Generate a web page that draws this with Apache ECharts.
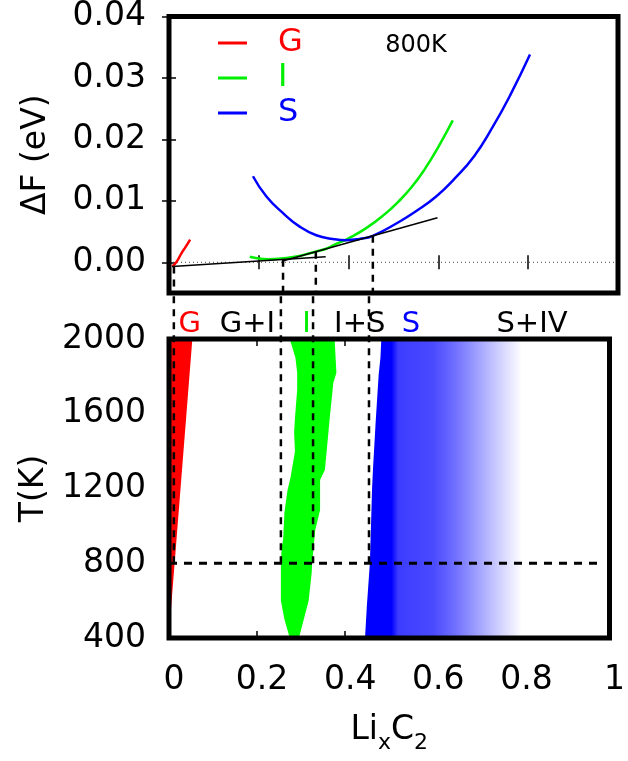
<!DOCTYPE html>
<html>
<head>
<meta charset="utf-8">
<script src="https://cdn.jsdelivr.net/npm/echarts@6/dist/echarts.min.js"></script>
<style>
html,body{margin:0;padding:0;background:#fff;}
#main{width:628px;height:761px;}
</style>
</head>
<body>
<div id="main"></div>
<script>
// ---------------- data ----------------
const fTickValues = [0, 0.01, 0.02, 0.03, 0.04];
const fRange = [-0.005, 0.04];
const xRange = [0, 1];
const tRange = [400, 2000];
const tInterval = 400;

const curveG = [[0.007,-0.0007],[0.017,0.0001],[0.028,0.0015],[0.037,0.0025],[0.047,0.0037]];
const curveI = [[0.18,0.0009],[0.20,0.0006],[0.22,0.0005],[0.25,0.0006],[0.28,0.0009],[0.30,0.0012],
  [0.33,0.0018],[0.35,0.0022],[0.37,0.0029],[0.40,0.0039],[0.44,0.0056],[0.48,0.0078],[0.51,0.0098],
  [0.54,0.0122],[0.57,0.0152],[0.60,0.0188],[0.632,0.0231]];
const curveS = [[0.187,0.0140],[0.217,0.0107],[0.254,0.0080],[0.291,0.0058],[0.328,0.0044],[0.365,0.0038],
  [0.395,0.0036],[0.424,0.0038],[0.454,0.0043],[0.513,0.0066],[0.55,0.0083],[0.595,0.0107],[0.636,0.0136],
  [0.68,0.0173],[0.72,0.0219],[0.76,0.0272],[0.804,0.0338]];
const tangentGI = [[0.007,-0.0007],[0.349,0.0009]];
const tangentIS = [[0.253,0.0002],[0.598,0.00725]];
const zeroLine = [[0,0],[1,0]];

const boundaryX = [0.011, 0.254, 0.327, 0.454];
const boundaryF = [-0.0007, 0.0004, 0.0017, 0.0043];
const refT = 800;
const refLine = [[0,800],[0.976,800]];

const regionG = [[0,420],[0.053,2000],[0,2000]];
const regionI = [[0.274,400],[0.262,500],[0.254,600],[0.254,800],[0.256,890],[0.259,925],[0.262,1070],
  [0.269,1190],[0.276,1260],[0.286,1400],[0.284,1500],[0.286,1580],[0.291,1730],[0.291,1820],[0.287,1900],
  [0.274,2000],[0.376,2000],[0.38,1820],[0.373,1765],[0.365,1580],[0.354,1300],[0.343,1246],[0.343,1085],
  [0.332,978],[0.325,800],[0.324,750],[0.317,600],[0.295,400]];
const regionS = [[0.445,400],[0.449,566],[0.456,800],[0.461,1200],[0.463,1300],[0.469,1550],[0.476,1810],
  [0.48,1900],[0.482,2000],[1,2000],[1,400]];
const gradX = [0.445, 0.505, 0.52, 0.60, 0.65, 0.70, 0.75, 0.795, 0.80];
const gradC = ['#0000ff','#0000ff','#3c3cff','#4a4aff','#7070ff','#a0a0ff','#d0d0ff','#f8f8ff','#ffffff'];

const phaseLabels = ['G','G+I','I','I+S','S','S+IV'];
const phaseLabelX = [0.047, 0.178, 0.312, 0.433, 0.549, 0.824];
const tempLabel = ['800K'];
const tempLabelPos = [[0.55, 0.0352]];

// ---------------- style / layout ----------------
const FONT = 'DejaVu Sans';
const RED = '#ff0000', GREEN = '#00ee00', GREENFILL = '#00ff00', BLUE = '#0000ff';
const phaseLabelColor = [RED,'#000',GREEN,'#000',BLUE,'#000'];
const LEFT = 169, RIGHT = 10, TOP0 = 16, H0 = 277, TOP1 = 339, H1 = 299;
const GAP = TOP1 - (TOP0 + H0);

const chart = echarts.init(document.getElementById('main'));

function tickAxis(grid, pos) {
  return {gridIndex: grid, type: 'value', min: xRange[0], max: xRange[1], interval: 0.2, position: pos,
    axisLine: {show: false}, splitLine: {show: false}, axisLabel: {show: false},
    axisTick: {show: true, inside: true, length: 7, lineStyle: {color: '#000', width: 1.5}}};
}
function polySeries(pts, fillFn) {
  return {type: 'custom', xAxisIndex: 2, yAxisIndex: 2, z: 2, silent: true, data: pts,
    renderItem: function (params, api) {
      if (params.dataIndex !== 0) return null;
      const P = pts.map(p => api.coord(p));
      return {type: 'polygon', shape: {points: P}, style: {fill: fillFn(api), stroke: null}};
    }};
}

const xAxes = [tickAxis(0,'bottom'), tickAxis(0,'top'), tickAxis(1,'bottom'), tickAxis(1,'top')];
xAxes[2].axisLabel = {show: true, fontFamily: FONT, fontSize: 33, color: '#000', margin: 26,
  padding: [0,0,0,10], formatter: v => String(+v.toFixed(1))};
xAxes[2].name = '{m|Li}{s|x}{m|C}{s|2}';
xAxes[2].nameLocation = 'middle';
xAxes[2].nameGap = 76;
xAxes[2].nameTextStyle = {color: '#000', fontFamily: FONT, rich: {
  m: {fontFamily: FONT, fontSize: 33, lineHeight: 40, verticalAlign: 'bottom', padding: [0,0,7,0], color:'#000'},
  s: {fontFamily: FONT, fontSize: 22, lineHeight: 22, verticalAlign: 'bottom', color:'#000'}}};

const option = {
  animation: false,
  backgroundColor: '#fff',
  textStyle: {fontFamily: FONT},
  grid: [
    {left: LEFT, right: RIGHT, top: TOP0, height: H0, show: true, borderColor: '#000', borderWidth: 5, backgroundColor: 'transparent', z: 10},
    {left: LEFT, right: RIGHT, top: TOP1, height: H1, show: true, borderColor: '#000', borderWidth: 5, backgroundColor: 'transparent', z: 10}
  ],
  legend: {
    data: [{name: 'G', textStyle: {color: RED}}, {name: 'I', textStyle: {color: GREEN}}, {name: 'S', textStyle: {color: BLUE}}],
    orient: 'vertical', left: 213, top: 22, icon: 'rect', itemWidth: 29, itemHeight: 3, itemGap: 3,
    textStyle: {fontFamily: FONT, fontSize: 32, lineHeight: 32, padding: [0,0,0,26]}
  },
  xAxis: xAxes,
  yAxis: [
    {gridIndex: 0, type: 'value', min: fRange[0], max: fRange[1], position: 'left',
      axisLine: {show: false}, splitLine: {show: false},
      axisTick: {show: true, inside: true, length: 7, customValues: fTickValues, lineStyle: {color: '#000', width: 1.5}},
      axisLabel: {fontFamily: FONT, fontSize: 33, color: '#000', margin: 23, customValues: fTickValues, formatter: v => v.toFixed(2)},
      name: 'ΔF (eV)', nameLocation: 'middle', nameGap: 116, nameTextStyle: {fontFamily: FONT, fontSize: 33, color: '#000'}},
    {gridIndex: 0, type: 'value', min: fRange[0], max: fRange[1], position: 'right',
      axisLine: {show: false}, splitLine: {show: false}, axisLabel: {show: false},
      axisTick: {show: true, inside: true, length: 7, customValues: fTickValues, lineStyle: {color: '#000', width: 1.5}}},
    {gridIndex: 1, type: 'value', min: tRange[0], max: tRange[1], interval: tInterval, position: 'left',
      axisLine: {show: false}, splitLine: {show: false}, axisTick: {show: false},
      axisLabel: {fontFamily: FONT, fontSize: 33, color: '#000', margin: 23, formatter: v => String(v)},
      name: 'T(K)', nameLocation: 'middle', nameGap: 116, nameTextStyle: {fontFamily: FONT, fontSize: 33, color: '#000'}}
  ],
  series: [
    {name: 'G', type: 'line', xAxisIndex: 0, yAxisIndex: 0, data: curveG, showSymbol: false, smooth: 0.5, color: RED, lineStyle: {width: 2.5}, z: 4},
    {name: 'I', type: 'line', xAxisIndex: 0, yAxisIndex: 0, data: curveI, showSymbol: false, smooth: 0.5, color: GREEN, lineStyle: {width: 2.5}, z: 4},
    {name: 'S', type: 'line', xAxisIndex: 0, yAxisIndex: 0, data: curveS, showSymbol: false, smooth: 0.5, color: BLUE, lineStyle: {width: 2.5}, z: 4},
    {type: 'line', xAxisIndex: 0, yAxisIndex: 0, data: tangentGI, showSymbol: false, color: '#000', lineStyle: {width: 1.5}, z: 5, silent: true},
    {type: 'line', xAxisIndex: 0, yAxisIndex: 0, data: tangentIS, showSymbol: false, color: '#000', lineStyle: {width: 1.5}, z: 5, silent: true},
    {type: 'line', xAxisIndex: 0, yAxisIndex: 0, data: zeroLine, showSymbol: false, color: '#444', lineStyle: {width: 1, type: [1,3]}, z: 3, silent: true},
    {type: 'custom', xAxisIndex: 0, yAxisIndex: 0, z: 5, silent: true,
      data: boundaryX.map((x, i) => [x, boundaryF[i]]),
      renderItem: function (params, api) {
        const p1 = api.coord([api.value(0), api.value(1)]);
        const p2 = api.coord([api.value(0), fRange[0]]);
        return {type: 'line', shape: {x1: p1[0], y1: p1[1], x2: p2[0], y2: p2[1]}, style: {stroke: '#000', lineWidth: 2.5, lineDash: [7,6]}};
      }},
    {type: 'custom', xAxisIndex: 0, yAxisIndex: 0, z: 5, silent: true, data: tempLabelPos,
      renderItem: function (params, api) {
        const p = api.coord([api.value(0), api.value(1)]);
        return {type: 'text', x: p[0], y: p[1], style: {text: tempLabel[params.dataIndex], fontFamily: FONT, fontSize: 24, fill: '#000', align: 'center', verticalAlign: 'middle'}};
      }},
    polySeries(regionG, api => RED),
    polySeries(regionI, api => GREENFILL),
    polySeries(regionS, api => {
      const a = api.coord([gradX[0], tRange[0]])[0];
      const b = api.coord([gradX[gradX.length - 1], tRange[0]])[0];
      const span = gradX[gradX.length - 1] - gradX[0];
      return new echarts.graphic.LinearGradient(a, 0, b, 0,
        gradX.map((x, i) => ({offset: (x - gradX[0]) / span, color: gradC[i]})), true);
    }),
    {type: 'line', xAxisIndex: 2, yAxisIndex: 2, data: refLine, showSymbol: false, color: '#000', lineStyle: {width: 3, type: [8,7]}, z: 6, silent: true},
    {type: 'custom', xAxisIndex: 2, yAxisIndex: 2, z: 6, silent: true,
      data: boundaryX.map(x => [x, refT]),
      renderItem: function (params, api) {
        const p1 = api.coord([api.value(0), api.value(1)]);
        const p2 = api.coord([api.value(0), tRange[1]]);
        return {type: 'line', shape: {x1: p1[0], y1: p1[1], x2: p2[0], y2: p2[1] - GAP}, style: {stroke: '#000', lineWidth: 2.5, lineDash: [7,6]}};
      }},
    {type: 'custom', xAxisIndex: 2, yAxisIndex: 2, z: 6, silent: true,
      data: phaseLabelX.map(x => [x, tRange[1]]),
      renderItem: function (params, api) {
        const p = api.coord([api.value(0), api.value(1)]);
        return {type: 'text', x: p[0], y: p[1] - 15, style: {text: phaseLabels[params.dataIndex], fontFamily: FONT, fontSize: 29, fill: phaseLabelColor[params.dataIndex], align: 'center', verticalAlign: 'middle'}};
      }}
  ]
};
chart.setOption(option);
</script>
</body>
</html>
